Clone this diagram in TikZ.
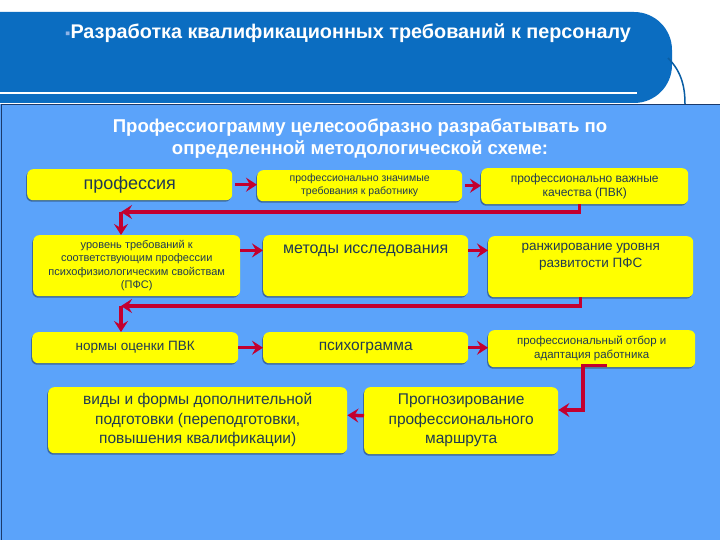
\documentclass[tikz,border=0pt]{standalone}
\usepackage{fontspec}
\setmainfont{Liberation Sans}
\usepackage{tikz}
\usetikzlibrary{arrows.meta,positioning,shadows}
\definecolor{header}{HTML}{0B6DC1}
\definecolor{panel}{HTML}{5BA3FA}
\definecolor{rim}{HTML}{1B3A6B}
\definecolor{dot}{HTML}{8FB4E8}
\definecolor{cardyellow}{HTML}{FFFF00}
\definecolor{ink}{HTML}{203A52}
\definecolor{arrowred}{HTML}{C3002F}
\newcommand{\boxfont}[2]{\fontsize{#1}{#2}\selectfont}

\begin{document}
\begin{tikzpicture}[x=1pt, y=-1pt,
  card/.style={rounded corners=6pt, fill=cardyellow, text=ink, align=center, inner sep=2pt, anchor=north west,
    drop shadow={shadow xshift=-1pt, shadow yshift=-1.5pt, fill=black, opacity=0.35}},
  link/.style={arrowred, line width=3.5pt, -{Stealth[length=11pt, width=14pt, inset=4pt]}}]
  \useasboundingbox (0,0) rectangle (720,540);
  \fill[white] (0,0) rectangle (720,540);
  \fill[panel] (0,104) rectangle (720,540);
  \draw[rim, line width=1pt] (720,104.5) -- (1,104.5) -- (1,540);
  \fill[header, rounded corners=38pt] (-60,12) rectangle (672,103);
  \draw[header!85!black, line width=1.5pt] (668,58) .. controls (682,72) and (685,88) .. (685,104);
  \draw[white, line width=2.5pt] (0,93) -- (637,93);
  \node[anchor=west, text=white, font=\bfseries\boxfont{19.8}{22}, inner sep=0pt] (title) at (65,33)
    {\textcolor{dot}{\boxfont{15}{15}▪}Разработка квалификационных требований к персоналу};
  \node[text=white, font=\bfseries\boxfont{18.6}{22}, align=center] (lead) at (360,139)
    {Профессиограмму целесообразно разрабатывать по\\определенной методологической схеме:};

  \node[card, minimum width=205pt, minimum height=31pt, font=\boxfont{18}{20}] (prof) at (27,169) {профессия};
  \node[card, minimum width=205pt, minimum height=31pt, font=\boxfont{10.5}{13}] (req) at (257,170)
    {профессионально значимые\\требования к работнику};
  \node[card, minimum width=207pt, minimum height=36pt, font=\boxfont{12}{14}] (pvk) at (481,168)
    {профессионально важные\\качества (ПВК)};
  \node[card, minimum width=207pt, minimum height=61pt, font=\boxfont{11}{13.5}] (pfs) at (33,235)
    {уровень требований к\\соответствующим профессии\\психофизиологическим свойствам\\(ПФС)};
  \node[card, minimum width=205pt, minimum height=61pt] (meth) at (263,235) {};
  \node[card, minimum width=205pt, minimum height=61pt] (rank) at (488,236) {};
  \node[below=6pt of meth.north, text=ink, font=\boxfont{16}{19}] (methtext) {методы исследования};
  \node[below=4pt of rank.north, text=ink, font=\boxfont{13.5}{17}, align=center] (ranktext)
    {ранжирование уровня\\развитости ПФС};
  \node[card, minimum width=206pt, minimum height=31pt, font=\boxfont{13.5}{16}] (norm) at (32,332) {нормы оценки ПВК};
  \node[card, minimum width=205pt, minimum height=31pt, font=\boxfont{15.5}{19}] (psy) at (263,332) {психограмма};
  \node[card, minimum width=207pt, minimum height=37pt, font=\boxfont{11.5}{14}] (sel) at (488,330)
    {профессиональный отбор и\\адаптация работника};
  \node[card, minimum width=299pt, minimum height=66pt, font=\boxfont{15.5}{19.5}] (train) at (48,387)
    {виды и формы дополнительной\\подготовки (переподготовки,\\повышения квалификации)};
  \node[card, minimum width=194pt, minimum height=67pt, font=\boxfont{15.5}{19.5}] (fore) at (364,387)
    {Прогнозирование\\профессионального\\маршрута};

  \coordinate (turn1) at (121,212);
  \coordinate (turn2) at (121,306);
  \coordinate (turn3) at (583,410);
  \draw[link] ([xshift=3pt]prof.east) -- (prof.east -| req.west);
  \draw[link] ([xshift=3pt]req.east) -- (req.east -| pvk.west);
  \draw[link] (pfs.east |- methtext) -- (meth.west |- methtext);
  \draw[link] (meth.east |- methtext) -- (rank.west |- methtext);
  \draw[link] (norm) -- (psy);
  \draw[link] (psy.east) -- (psy.east -| sel.west);
  \draw[link] ([xshift=-5pt]pvk.south) |- (turn1);
  \draw[link] (turn1) -- (turn1 |- pfs.north);
  \draw[link] ([xshift=-10pt]rank.south) |- (turn2);
  \draw[link] (turn2) -- (turn2 |- norm.north);
  \draw[link] ([xshift=15pt,yshift=2pt]sel.south) -| (turn3) -- (turn3 -| fore.east);
  \draw[link] ([yshift=5pt]fore.west) -- ([yshift=5pt]train.east);
\end{tikzpicture}
\end{document}
